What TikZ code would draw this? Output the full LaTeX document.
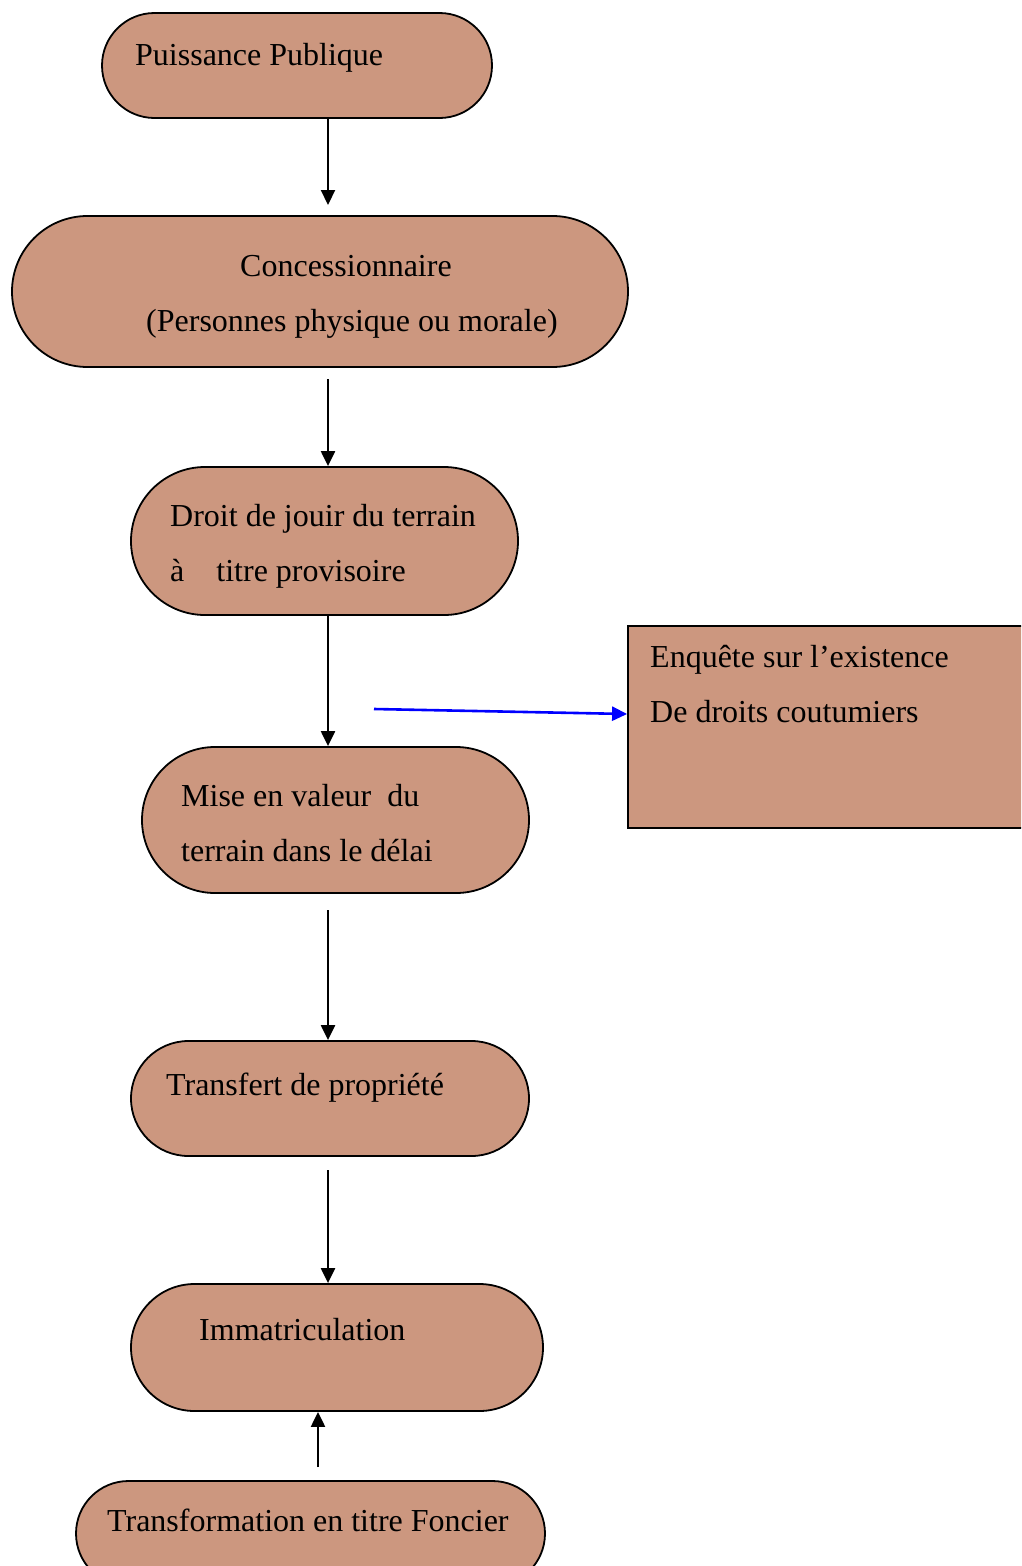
\documentclass[tikz,border=0pt]{standalone}
\usepackage{fontspec}
\setmainfont{Liberation Serif}
\usetikzlibrary{shapes.misc,arrows.meta,positioning,calc}
\usepackage{xcolor}
\definecolor{mbrown}{HTML}{CC977F}
\tikzstyle{stadium}=[rounded rectangle, draw=black, fill=mbrown, line width=1.8, inner sep=0pt]
\tikzstyle{rect}=[rectangle, draw=black, fill=mbrown, line width=1.8, inner sep=0pt]
\tikzstyle{txt}=[anchor=base west, inner sep=0pt, font=\fontsize{32}{38}\selectfont]
\tikzstyle{l1}=[line width=2.2, -{Triangle[length=15pt,width=14pt]}]

\begin{document}
\begin{tikzpicture}[x=1pt,y=-1pt]
    \clip (0,0) rectangle (1021,1566);
    \node[stadium, minimum width=390, minimum height=105] (pp)     at (297,65.5)   {};
    \node[stadium, minimum width=616, minimum height=151] (conc)   at (320,291.5)  {};
    \node[stadium, minimum width=387, minimum height=148] (droit)  at (324.5,541)  {};
    \node[stadium, minimum width=387, minimum height=146] (mise)   at (335.5,820)  {};
    \node[stadium, minimum width=398, minimum height=115] (transf) at (330,1098.5) {};
    \node[stadium, minimum width=412, minimum height=127] (immat)  at (337,1347.5) {};
    \node[stadium, minimum width=469, minimum height=105] (tf)     at (310.5,1533.5) {};
    \node[rect,    minimum width=402, minimum height=202] (enq)    at (829,727)    {};

    \node[txt] (t1)  at (135,65)   {Puissance Publique};
    \node[txt] (t2)  at (240,276)  {Concessionnaire};
    \node[txt] (t3)  at (146,331)  {(Personnes physique ou morale)};
    \node[txt] (t4)  at (170,526)  {Droit de jouir du terrain};
    \node[txt] (t5)  at (170,581)  {à\hspace{32pt}titre provisoire};
    \node[txt] (t6)  at (181,806)  {Mise en valeur\ \ du};
    \node[txt] (t7)  at (181,861)  {terrain dans le délai};
    \node[txt] (t8)  at (166,1095) {Transfert de propriété};
    \node[txt] (t9)  at (199,1340) {Immatriculation};
    \node[txt] (t10) at (107,1531) {Transformation en titre Foncier};
    \node[txt] (t11) at (650,667)  {Enquête sur l’existence};
    \node[txt] (t12) at (650,722)  {De droits coutumiers};

    \coordinate (ax) at (328,0);
    \coordinate (e1) at (328,205);
    \coordinate (s2) at (328,379);
    \coordinate (s4) at (328,910);
    \coordinate (s5) at (328,1170);
    \coordinate (s6) at (318,1467);
    \coordinate (s7) at (374,709);
    \draw[l1] (pp.south -| ax) -- (e1);
    \draw[l1] (s2) -- (s2 |- droit.north);
    \draw[l1] (droit.south -| ax) -- (mise.north -| ax);
    \draw[l1] (s4) -- (s4 |- transf.north);
    \draw[l1] (s5) -- (s5 |- immat.north);
    \draw[l1] (s6) -- (s6 |- immat.south);
    \draw[l1, color=blue, line width=2.6] (s7) -- ([yshift=13pt]enq.west);
\end{tikzpicture}
\end{document}
